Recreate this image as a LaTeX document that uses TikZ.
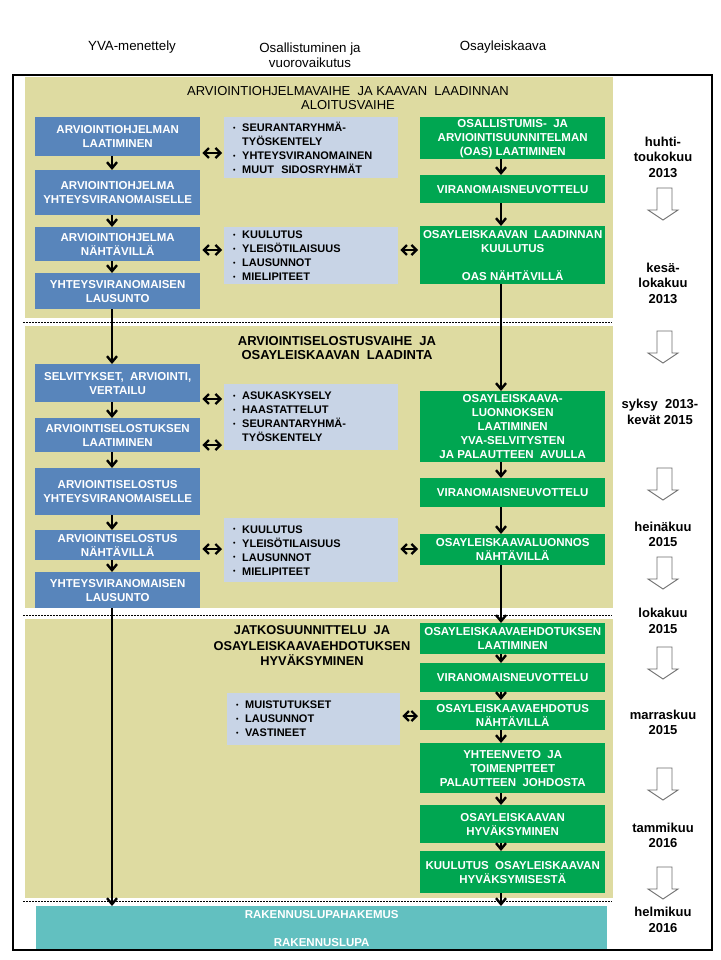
\documentclass[tikz,border=0pt]{standalone}
\usepackage{fontspec}
\setmainfont{Liberation Sans}
\usetikzlibrary{arrows.meta}
\definecolor{khakiC}{RGB}{222,219,161}
\definecolor{blueC}{RGB}{88,133,187}
\definecolor{lightC}{RGB}{200,212,230}
\definecolor{greenC}{RGB}{0,166,81}
\definecolor{tealC}{RGB}{98,192,192}
\definecolor{hollowC}{RGB}{110,110,110}
\newcommand\bul{\makebox[9pt][l]{\raisebox{1.2pt}{\fontsize{7}{7}\selectfont\textbullet}}}
\newcommand\ind{\hspace*{9pt}}
\tikzset{
 box/.style={anchor=north west, inner sep=0pt, align=center, font=\bfseries\fontsize{11.5}{14}\selectfont},
 bluebox/.style={box, fill=blueC, text=white, minimum width=165pt},
 greenbox/.style={box, fill=greenC, text=white, minimum width=185pt},
 lightbox/.style={anchor=north west, fill=lightC, inner xsep=9pt, inner ysep=0pt, align=left, text width=156pt, font=\bfseries\fontsize{11}{14}\selectfont, text=black},
 arr/.style={line width=1.8pt, -{Straight Barb[length=6pt,width=10pt,line width=2.4pt]}},
 dbl/.style={line width=1.8pt, {Straight Barb[length=5pt,width=10pt,line width=2.2pt]}-{Straight Barb[length=5pt,width=10pt,line width=2.2pt]}, shorten <=2pt, shorten >=2pt},
 timelabel/.style={align=center, font=\bfseries\fontsize{13}{15.5}\selectfont},
 header/.style={align=center, font=\fontsize{13.3}{15.5}\selectfont},
 hollow/.style={draw=hollowC, fill=white, line width=0.9pt},
 sep/.style={line width=1.5pt, dash pattern=on 1.5pt off 1.5pt},
}
\begin{document}
\begin{tikzpicture}[x=1pt,y=-1pt]
\useasboundingbox[fill=white] (0,0) rectangle (720,960);
% phase backgrounds
\fill[khakiC] (25,77) rectangle (613,318);
\fill[khakiC] (25,326) rectangle (613,608);
\fill[khakiC] (25,619) rectangle (613,898);
\draw[sep] (23,322.5) -- (612,322.5);
\draw[sep] (23,615.5) -- (612,615.5);
\draw[sep] (23,901.5) -- (612,901.5);
% headers
\node[header] (h1) at (132,47) {YVA-menettely};
\node[header] (h2) at (310,55) {Osallistuminen ja\\vuorovaikutus};
\node[header] (h3) at (503,47) {Osayleiskaava};
% phase titles
\node[align=center, font=\fontsize{13}{14}\selectfont] (p1) at (348,98) {ARVIOINTIOHJELMAVAIHE\ \ JA KAAVAN\ \ LAADINNAN\\ALOITUSVAIHE};
\node[align=center, font=\bfseries\fontsize{13}{14.5}\selectfont] (p2) at (337,348) {ARVIOINTISELOSTUSVAIHE\ \ JA\\OSAYLEISKAAVAN\ \ LAADINTA};
\node[align=center, font=\bfseries\fontsize{12.8}{15.5}\selectfont] (p3) at (312,646) {JATKOSUUNNITTELU\ \ JA\\OSAYLEISKAAVAEHDOTUKSEN\\HYVÄKSYMINEN};
% YVA column
\node[bluebox, minimum height=39pt] (b1) at (35,117) {ARVIOINTIOHJELMAN\\LAATIMINEN};
\node[bluebox, minimum height=45pt] (b2) at (35,170) {ARVIOINTIOHJELMA\\YHTEYSVIRANOMAISELLE};
\node[bluebox, minimum height=34pt] (b3) at (35,227) {ARVIOINTIOHJELMA\\NÄHTÄVILLÄ};
\node[bluebox, minimum height=36pt] (b4) at (35,273) {YHTEYSVIRANOMAISEN\\LAUSUNTO};
\node[bluebox, minimum height=38pt] (b5) at (35,364) {SELVITYKSET,\ \ ARVIOINTI,\\VERTAILU};
\node[bluebox, minimum height=34pt] (b6) at (35,418) {ARVIOINTISELOSTUKSEN\\LAATIMINEN};
\node[bluebox, minimum height=47pt] (b7) at (35,468) {ARVIOINTISELOSTUS\\YHTEYSVIRANOMAISELLE};
\node[bluebox, minimum height=30pt] (b8) at (35,530) {ARVIOINTISELOSTUS\\NÄHTÄVILLÄ};
\node[bluebox, minimum height=36pt] (b9) at (35,572) {YHTEYSVIRANOMAISEN\\LAUSUNTO};
% participation column
\node[lightbox, minimum height=61pt] (l1) at (224,117) {\bul SEURANTARYHMÄ-\\\ind TYÖSKENTELY\\\bul YHTEYSVIRANOMAINEN\\\bul MUUT\ \ SIDOSRYHMÄT};
\node[lightbox, minimum height=57pt] (l2) at (224,227) {\bul KUULUTUS\\\bul YLEISÖTILAISUUS\\\bul LAUSUNNOT\\\bul MIELIPITEET};
\node[lightbox, minimum height=66pt] (l3) at (224,384) {\bul ASUKASKYSELY\\\bul HAASTATTELUT\\\bul SEURANTARYHMÄ-\\\ind TYÖSKENTELY};
\node[lightbox, minimum height=64pt] (l4) at (224,518) {\bul KUULUTUS\\\bul YLEISÖTILAISUUS\\\bul LAUSUNNOT\\\bul MIELIPITEET};
\node[lightbox, minimum height=52pt, text width=155pt] (l5) at (227,693) {\bul MUISTUTUKSET\\\bul LAUSUNNOT\\\bul VASTINEET};
% plan column
\node[greenbox, minimum height=42pt] (g1) at (420,117) {OSALLISTUMIS-\ \ JA\\ARVIOINTISUUNNITELMAN\\(OAS) LAATIMINEN};
\node[greenbox, minimum height=28pt] (g2) at (420,175) {VIRANOMAISNEUVOTTELU};
\node[greenbox, minimum height=58pt] (g3) at (420,226) {OSAYLEISKAAVAN\ \ LAADINNAN\\KUULUTUS\\[14pt]OAS NÄHTÄVILLÄ};
\node[greenbox, minimum height=71pt] (g4) at (420,391) {OSAYLEISKAAVA-\\LUONNOKSEN\\LAATIMINEN\\YVA-SELVITYSTEN\\JA PALAUTTEEN\ \ AVULLA};
\node[greenbox, minimum height=29pt] (g5) at (420,478) {VIRANOMAISNEUVOTTELU};
\node[greenbox, minimum height=31pt] (g6) at (420,534) {OSAYLEISKAAVALUONNOS\\NÄHTÄVILLÄ};
\node[greenbox, minimum height=31pt] (g7) at (420,623) {OSAYLEISKAAVAEHDOTUKSEN\\LAATIMINEN};
\node[greenbox, minimum height=29pt] (g8) at (420,663) {VIRANOMAISNEUVOTTELU};
\node[greenbox, minimum height=30pt] (g9) at (420,700) {OSAYLEISKAAVAEHDOTUS\\NÄHTÄVILLÄ};
\node[greenbox, minimum height=50pt] (g10) at (420,743) {YHTEENVETO\ \ JA\\TOIMENPITEET\\PALAUTTEEN\ \ JOHDOSTA};
\node[greenbox, minimum height=38pt] (g11) at (420,805) {OSAYLEISKAAVAN\\HYVÄKSYMINEN};
\node[greenbox, minimum height=42pt] (g12) at (420,851) {KUULUTUS\ \ OSAYLEISKAAVAN\\HYVÄKSYMISESTÄ};
% building permit
\node[box, fill=tealC, text=white, minimum width=571pt, minimum height=44pt] (t) at (36,906) {RAKENNUSLUPAHAKEMUS\\[14pt]RAKENNUSLUPA};
% vertical connectors
\coordinate (ca) at (112,0);
\coordinate (cc) at (501,0);
\foreach \a/\b in {b1/b2,b2/b3,b3/b4,b4/b5,b5/b6,b6/b7,b7/b8,b8/b9,b9/t}
  \draw[arr] (\a.south -| ca) -- (\b.north -| ca);
\foreach \a/\b in {g1/g2,g2/g3,g3/g4,g4/g5,g5/g6,g6/g7,g7/g8,g8/g9,g9/g10,g10/g11,g11/g12,g12/t}
  \draw[arr] (\a.south -| cc) -- (\b.north -| cc);
% two-way connectors
\draw[dbl] (b1.east |- 0,153) -- (l1.west |- 0,153);
\draw[dbl] (b3.east |- 0,250) -- (l2.west |- 0,250);
\draw[dbl] (l2.east |- 0,250) -- (g3.west |- 0,250);
\draw[dbl] (b5.east |- 0,399) -- (l3.west |- 0,399);
\draw[dbl] (b6.east |- 0,445) -- (l3.west |- 0,445);
\draw[dbl] (b8.east |- 0,549) -- (l4.west |- 0,549);
\draw[dbl] (l4.east |- 0,549) -- (g6.west |- 0,549);
\draw[dbl] (l5.east |- 0,716) -- (g9.west |- 0,716);
% time column
\node[timelabel] (t1) at (663,157) {huhti-\\toukokuu\\2013};
\node[timelabel] (t2) at (663,283) {kesä-\\lokakuu\\2013};
\node[timelabel] (t3) at (660,412) {syksy\ \ 2013-\\kevät 2015};
\node[timelabel] (t4) at (663,534.5) {heinäkuu\\2015};
\node[timelabel] (t5) at (663,621) {lokakuu\\2015};
\node[timelabel] (t6) at (663,722.5) {marraskuu\\2015};
\node[timelabel] (t7) at (663,835.5) {tammikuu\\2016};
\node[timelabel] (t8) at (663,920) {helmikuu\\2016};
\foreach \s in {188,331,468,557,647,768,867}
  \draw[hollow] (657,\s) -- (672,\s) -- (672,\s+22) -- (678,\s+22) -- (663,\s+32) -- (648,\s+22) -- (657,\s+22) -- cycle;
% frame
\draw[line width=2.2pt] (13,75) rectangle (712,950);
\end{tikzpicture}
\end{document}
